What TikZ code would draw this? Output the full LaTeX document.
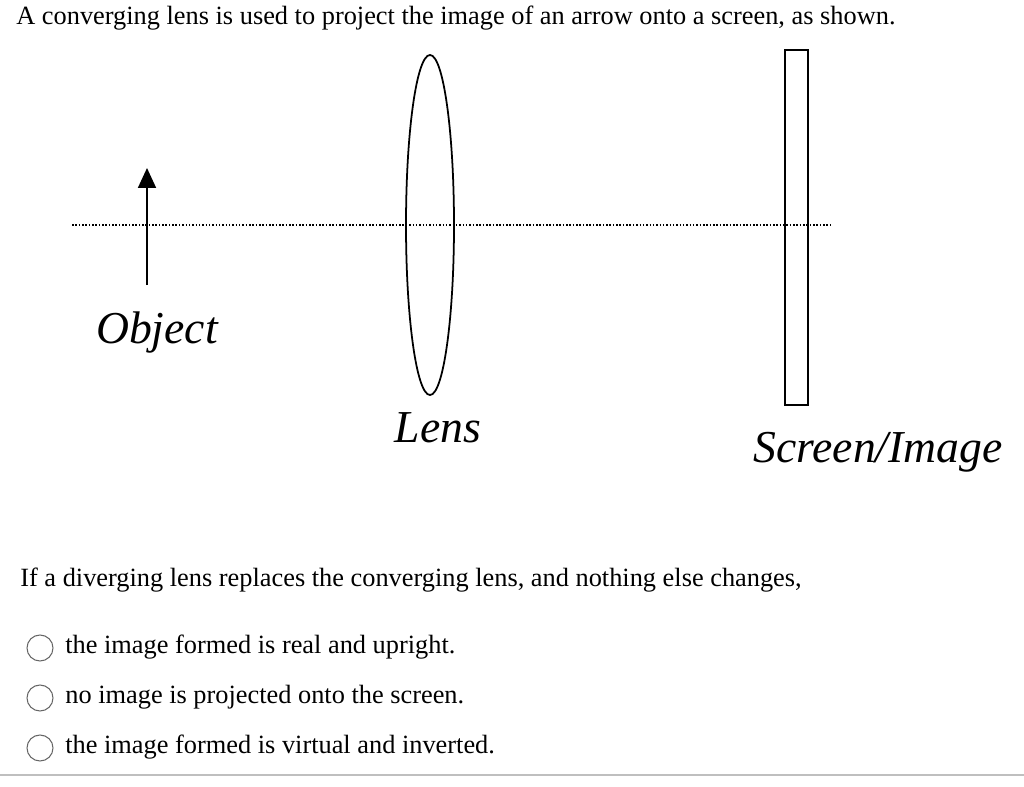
\documentclass[tikz,border=0pt]{standalone}
\usepackage{fontspec}
\setmainfont{Liberation Serif}
\usetikzlibrary{arrows.meta}
\begin{document}
\begin{tikzpicture}[x=0.02cm,y=-0.02cm,
  txt/.style={anchor=west,inner sep=0,font=\fontsize{15}{17}\selectfont},
  lbl/.style={inner sep=0,font=\fontsize{26}{29}\selectfont\itshape},
  radio/.style={circle,draw=black!60,line width=0.6pt,minimum size=0.52cm,inner sep=0}]
\useasboundingbox (0,0) rectangle (1024,787);
\node[txt] (t1) at (16,18) {A converging lens is used to project the image of an arrow onto a screen, as shown.};
\coordinate (axL) at (72,225); \coordinate (axR) at (830,225);
\draw[densely dotted,line width=0.9pt] (axL) -- (axR);
\coordinate (ob) at (147,285); \coordinate (ot) at (147,168);
\draw[line width=1pt,-{Triangle[length=0.4cm,width=0.36cm]}] (ob) -- (ot);
\node[lbl] (obj) at (157,333) {Object};
\draw[line width=1pt] (430,225) ellipse [x radius=24,y radius=170];
\node[draw,line width=1pt,minimum width=0.46cm,minimum height=7.1cm,inner sep=0] (scr) at (796.5,227.5) {};
\node[lbl] (lens) at (438,428) {Lens};
\node[lbl] (si) at (878,452) {Screen/Image};
\node[txt] (q) at (20,580) {If a diverging lens replaces the converging lens, and nothing else changes,};
\node[radio] (r1) at (40,648) {}; \node[txt] (a1) at (65,647) {the image formed is real and upright.};
\node[radio] (r2) at (40,698) {}; \node[txt] (a2) at (65,697) {no image is projected onto the screen.};
\node[radio] (r3) at (40,748) {}; \node[txt] (a3) at (65,747) {the image formed is virtual and inverted.};
\draw[black!25,line width=1pt] (0,775) -- (1024,775);
\end{tikzpicture}
\end{document}
